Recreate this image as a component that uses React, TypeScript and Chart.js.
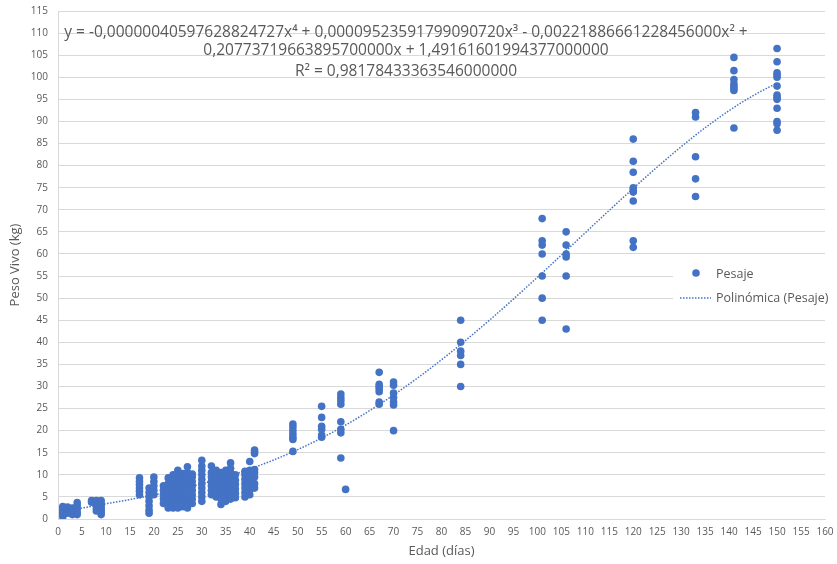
import React, { useEffect, useRef } from "react";
import { Chart, registerables } from "chart.js";

Chart.register(...registerables);

// Edad (días) de cada grupo de pesaje
const diasEdad: number[] = [
  1, 2, 3, 4, 7, 8, 9, 17, 19, 20, 22, 23, 24, 25, 26, 27, 28, 30, 32, 33, 34, 35, 36, 37, 39, 40, 41,
  49, 55, 59, 60, 67, 70, 84, 101, 106, 120, 133, 141, 150,
];

// Pesos vivos (kg) observados para cada edad
const pesosKg: number[][] = [
  [0.5, 1, 1.5, 2, 2.5, 2.8],
  [1.3, 1.8, 2.3, 2.7],
  [1, 1.5, 2, 2.5],
  [1, 1.5, 2.2, 3, 3.7],
  [3.8, 4.2],
  [1.8, 2.5, 3.2, 3.8, 4.2],
  [1, 1.5, 2, 2.5, 3, 3.5, 4.2],
  [5.5, 6.3, 7, 7.8, 8.5, 9.3],
  [1.3, 2, 3, 4, 5, 6, 7],
  [5.5, 6.5, 7.5, 8.5, 9.5],
  [3.5, 4.5, 5.5, 6.5, 7.5],
  [2.5, 3, 4, 5, 6, 7, 8, 9.3],
  [2.5, 3, 4, 5, 6, 7, 8, 9, 10],
  [2.5, 3.5, 4.5, 5.5, 6.5, 7.5, 8.5, 9.5, 10.5, 11],
  [2.8, 3.5, 4.5, 5.5, 6.5, 7.5, 8.5, 9.5, 10.3],
  [2.5, 3.5, 4.5, 5.5, 6.5, 7.5, 8.5, 9.5, 10.5, 11.8],
  [3.5, 4.5, 5.5, 6.5, 7.5, 8.5, 9.5, 10.2],
  [4, 5, 6, 7, 8, 9, 10, 11, 12, 13.3],
  [5.5, 6.5, 7.5, 8.5, 9.5, 10.5, 12],
  [5, 6, 7, 8, 9, 10, 11],
  [3.3, 4.5, 5.5, 6.5, 7.5, 8.5, 9.5, 10.5],
  [4, 5, 6, 7, 8, 9, 10, 11],
  [4.5, 5.5, 6.5, 7.5, 8.5, 9.5, 10.5, 11.5, 12.7],
  [4.8, 5.8, 6.8, 7.8, 8.8, 10],
  [5, 6, 7, 8, 9, 10, 10.8],
  [5.5, 6.5, 7.5, 8.5, 9.5, 10.5, 11, 13],
  [7, 8, 9.5, 10.5, 11.2, 14.8, 15.2, 15.6],
  [15.3, 18, 18.5, 19.2, 20, 20.8, 21.5],
  [18.5, 19, 20.3, 21, 23, 25.5],
  [13.8, 19.5, 20.3, 22, 26, 26.8, 27.5, 28.3],
  [6.7],
  [26, 26.5, 28.8, 29.5, 30, 30.5, 33.2],
  [20, 25.8, 26.5, 27.5, 28.5, 30.3, 31],
  [30, 35, 37, 38, 40, 45],
  [45, 50, 55, 60, 62, 63, 68],
  [43, 55, 59.3, 60, 62, 65],
  [61.5, 63, 72, 74, 74.5, 75, 78.5, 81, 86],
  [73, 77, 82, 91, 92],
  [88.5, 97, 97.5, 98, 98.5, 99.5, 101.5, 104.5],
  [88, 89.5, 90, 93, 95, 95.5, 96, 98, 100, 100.5, 101, 103.5, 106.5],
];

// Coeficientes de la línea de tendencia polinómica (x^0 .. x^4)
const coefPolinomio: number[] = [
  1.49161601994377, 0.207737196638957, -0.00221886661228456, 0.0000952359179909072,
  -0.00000040597628824727,
];
const tendenciaDesde = 1;
const tendenciaHasta = 150;

const ecuacionLineas: string[] = [
  "y = -0,00000040597628824727x\u2074 + 0,00009523591799090720x\u00b3 - 0,00221886661228456000x\u00b2 +",
  "0,20773719663895700000x + 1,49161601994377000000",
  "R\u00b2 = 0,98178433363546000000",
];

const serieNombre = "Pesaje";
const tendenciaNombre = "Polinómica (Pesaje)";
const tituloX = "Edad (días)";
const tituloY = "Peso Vivo (kg)";
const xMin = 0, xMax = 160, xPaso = 5;
const yMin = 0, yMax = 115, yPaso = 5;

const AZUL = "#4472C4";
const GRIS = "#595959";
const REJILLA = "#d9d9d9";
const FUENTE = "'Open Sans', 'Liberation Sans', sans-serif";

function evalPoly(x: number): number {
  let y = 0;
  for (let i = coefPolinomio.length - 1; i >= 0; i--) y = y * x + coefPolinomio[i];
  return y;
}

const overlayPlugin = {
  id: "overlayExcel",
  afterDraw(chart: any) {
    const ctx = chart.ctx as CanvasRenderingContext2D;
    ctx.save();
    // Ecuación
    ctx.fillStyle = GRIS;
    ctx.font = `15.5px ${FUENTE}`;
    ctx.textAlign = "center";
    ctx.textBaseline = "middle";
    const ys = [33, 51, 72];
    ecuacionLineas.forEach((l, i) => ctx.fillText(l, 406, ys[i]));

    // Leyenda
    ctx.fillStyle = "#ffffff";
    ctx.fillRect(673, 259, 164, 55);
    ctx.fillStyle = AZUL;
    ctx.beginPath();
    ctx.arc(696, 273, 3.8, 0, Math.PI * 2);
    ctx.fill();
    ctx.strokeStyle = AZUL;
    ctx.lineWidth = 1.5;
    ctx.setLineDash([1.5, 1.5]);
    ctx.beginPath();
    ctx.moveTo(680, 298);
    ctx.lineTo(711, 298);
    ctx.stroke();
    ctx.setLineDash([]);
    ctx.fillStyle = GRIS;
    ctx.font = `12.5px ${FUENTE}`;
    ctx.textAlign = "left";
    ctx.fillText(serieNombre, 716, 274);
    ctx.fillText(tendenciaNombre, 716, 298);
    ctx.restore();
  },
};

export default function App() {
  const ref = useRef<HTMLCanvasElement | null>(null);

  useEffect(() => {
    const puntos: { x: number; y: number }[] = [];
    diasEdad.forEach((d, i) => pesosKg[i].forEach((v) => puntos.push({ x: d, y: v })));
    const tendencia: { x: number; y: number }[] = [];
    for (let x = tendenciaDesde; x <= tendenciaHasta; x += 1) tendencia.push({ x, y: evalPoly(x) });

    const chart = new Chart(ref.current!, {
      type: "scatter",
      data: {
        datasets: [
          {
            label: tendenciaNombre,
            data: tendencia,
            showLine: true,
            borderColor: AZUL,
            borderWidth: 1.5,
            borderDash: [1.5, 1.5],
            pointRadius: 0,
            fill: false,
            order: 0,
          } as any,
          {
            label: serieNombre,
            data: puntos,
            backgroundColor: AZUL,
            borderColor: AZUL,
            borderWidth: 0,
            pointRadius: 3.8,
            order: 1,
          },
        ],
      },
      options: {
        responsive: false,
        animation: false,
        layout: { padding: { top: 11, right: 12, left: 0, bottom: 0 } },
        plugins: { legend: { display: false }, tooltip: { enabled: false } },
        scales: {
          x: {
            type: "linear",
            min: xMin,
            max: xMax,
            ticks: {
              stepSize: xPaso,
              color: GRIS,
              font: { family: FUENTE, size: 10 },
              padding: 7,
              maxRotation: 0,
              autoSkip: false,
            },
            grid: { display: false, drawTicks: false },
            border: { display: true, color: REJILLA },
            title: {
              display: true,
              text: tituloX,
              color: GRIS,
              font: { family: FUENTE, size: 13 },
              padding: { top: 0, bottom: 5 },
            },
            afterFit: (s: any) => {
              s.height = 45;
              s.paddingLeft = 0;
              s.paddingRight = 0;
            },
          },
          y: {
            min: yMin,
            max: yMax,
            ticks: {
              stepSize: yPaso,
              color: GRIS,
              font: { family: FUENTE, size: 10 },
              padding: 10,
            },
            grid: { color: REJILLA, drawTicks: false },
            border: { display: true, color: REJILLA },
            title: {
              display: true,
              text: tituloY,
              color: GRIS,
              font: { family: FUENTE, size: 13 },
              padding: { top: 7, bottom: 0 },
            },
            afterFit: (s: any) => {
              s.width = 58;
              s.paddingTop = 0;
              s.paddingBottom = 0;
            },
          },
        },
      },
      plugins: [overlayPlugin],
    });
    return () => chart.destroy();
  }, []);

  return (
    <div style={{ position: "fixed", left: 0, top: 0, width: 837, height: 564, background: "#fff" }}>
      <canvas ref={ref} width={837} height={564} style={{ display: "block" }} />
    </div>
  );
}
